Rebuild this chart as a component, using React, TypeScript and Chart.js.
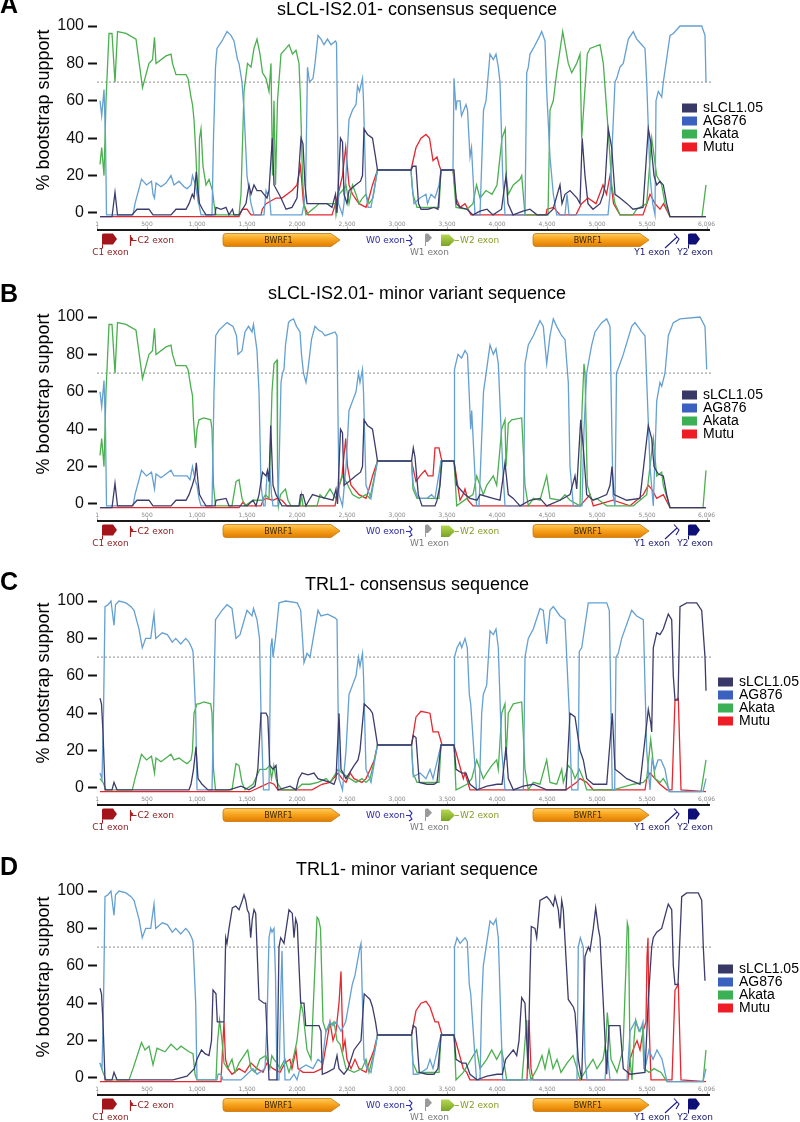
import React, { useEffect, useRef } from "react";
import { Chart, registerables } from "chart.js";

Chart.register(...registerables);

const FONT = "'Liberation Sans', Arial, Helvetica, sans-serif";
const SMALL_FONT = "'DejaVu Sans', Verdana, sans-serif";

// ---------------- labels / categories ----------------
const seriesNames = ["sLCL1.05", "AG876", "Akata", "Mutu"];
const panelLetters = ["A", "B", "C", "D"];
const panelTitles = [
  "sLCL-IS2.01- consensus sequence",
  "sLCL-IS2.01- minor variant sequence",
  "TRL1- consensus sequence",
  "TRL1- minor variant sequence",
];
const yAxisTitle = "% bootstrap support";
const yTicks = [0, 20, 40, 60, 80, 100];
const thresholdValue = 70;
const thresholdX = [0, 6150];
const rulerTicks = [1, 500, 1000, 1500, 2000, 2500, 3000, 3500, 4000, 4500, 5000, 5500, 6096];
const rulerLabels = ["1", "500", "1,000", "1,500", "2,000", "2,500", "3,000", "3,500", "4,000", "4,500", "5,000", "5,500", "6,096"];

// gene annotation track (positions in bp)
const geneNames = ["C1 exon", "C2 exon", "BWRF1", "W0 exon", "W1 exon", "W2 exon", "BWRF1", "Y1 exon", "Y2 exon"];
const geneStarts = [50, 330, 1260, 3090, 3280, 3440, 4360, 5710, 5910];
const geneEnds = [200, 365, 2430, 3150, 3350, 3580, 5520, 5830, 6030];

// ---------------- series values: [position (bp), % bootstrap] ----------------
const A_sLCL = [[30,-2],[150,-2],[180,11],[205,-1],[350,-1],[400,2],[520,2],[560,-1],[740,-1],[790,2],[890,2],[920,5],[953,10],[970,8],[980,15],[993,22],[1010,12],[1025,5],[1055,2],[1090,-1],[1180,-1],[1190,3],[1240,2],[1290,3],[1320,-1],[1355,2],[1370,-1],[1420,-1],[1490,5],[1520,15],[1540,10],[1570,15],[1600,12],[1640,12],[1670,10],[1700,8],[1720,12],[1753,40],[1770,15],[1800,12],[1840,8],[1890,2],[1950,3],[2000,8],[2040,40],[2060,37],[2080,15],[2100,5],[2220,5],[2300,5],[2350,3],[2385,10],[2400,0],[2435,40],[2455,38],[2470,10],[2500,5],[2520,12],[2585,15],[2635,17],[2655,20],[2670,45],[2705,42],[2755,40],[2785,30],[2805,23],[3140,23],[3160,25],[3190,25],[3215,5],[3240,2],[3310,2],[3370,3],[3410,2],[3440,23],[3570,23],[3595,5],[3630,3],[3700,2],[3760,-1],[3830,1],[3900,2],[3960,-1],[4045,2],[4090,20],[4110,5],[4160,-1],[4260,1],[4330,2],[4400,-1],[4500,-1],[4560,2],[4630,15],[4650,5],[4680,10],[4730,12],[4800,8],[4830,5],[4852,40],[4880,20],[4910,5],[4960,2],[5030,5],[5063,10],[5080,15],[5113,45],[5147,35],[5180,10],[5230,8],[5300,5],[5360,2],[5460,3],[5513,45],[5537,38],[5570,20],[5597,15],[5630,17],[5663,15],[5697,5],[5730,-2],[6090,-2]];
const A_AG876 = [[30,60],[47,52],[70,66],[85,40],[95,-1],[360,-1],[380,5],[445,18],[480,16],[495,15],[545,17],[560,10],[575,8],[590,16],[640,14],[690,16],[740,20],[770,15],[820,17],[870,14],[900,13],[940,15],[955,20],[985,15],[1000,10],[1025,3],[1040,-1],[1150,-1],[1165,40],[1185,78],[1200,88],[1250,92],[1300,97],[1340,95],[1370,92],[1405,82],[1420,80],[1450,70],[1470,55],[1500,20],[1540,5],[1570,-1],[1670,-1],[1690,12],[1705,10],[1720,12],[1740,-1],[2050,-1],[2070,5],[2085,10],[2105,78],[2125,70],[2160,72],[2180,80],[2210,95],[2240,93],[2270,90],[2305,93],[2340,90],[2385,92],[2395,91],[2415,5],[2455,-1],[2470,5],[2490,20],[2520,50],[2555,55],[2590,58],[2605,68],[2625,65],[2655,72],[2665,60],[2690,10],[2710,3],[2740,3],[2805,23],[3140,23],[3150,15],[3170,5],[3230,8],[3290,10],[3305,5],[3340,10],[3380,8],[3420,15],[3440,23],[3560,23],[3570,72],[3590,55],[3600,60],[3630,60],[3645,52],[3690,58],[3705,55],[3730,30],[3745,35],[3780,-1],[3830,-1],[3865,55],[3890,60],[3930,85],[3963,82],[3990,85],[4013,78],[4030,70],[4057,20],[4080,-1],[4280,-1],[4297,75],[4313,78],[4330,85],[4363,88],[4430,95],[4447,97],[4480,92],[4497,65],[4530,30],[4563,10],[4597,-1],[4680,-1],[4700,10],[4720,-1],[5110,-1],[5130,10],[5180,70],[5197,72],[5230,78],[5263,80],[5313,93],[5363,97],[5397,93],[5447,90],[5480,88],[5497,70],[5530,20],[5557,5],[5580,-1],[5590,60],[5613,65],[5647,62],[5663,70],[5690,80],[5730,95],[5763,96],[5797,98],[5830,100],[6047,100],[6080,95],[6090,70]];
const A_Akata = [[30,26],[47,35],[70,20],[90,60],[120,96],[150,96],[180,70],[205,97],[290,96],[390,93],[455,67],[520,80],[555,82],[575,94],[590,80],[690,84],[740,85],[755,80],[790,74],[890,74],[910,72],[940,62],[955,58],[970,50],[990,30],[1005,10],[1015,5],[1025,40],[1040,45],[1060,25],[1090,15],[1120,18],[1155,12],[1170,5],[1190,-1],[1420,-1],[1440,10],[1470,65],[1505,80],[1540,78],[1570,88],[1600,93],[1630,85],[1655,75],[1690,72],[1720,65],[1740,80],[1755,20],[1770,60],[1785,15],[1805,60],[1840,85],[1890,88],[1920,90],[1955,85],[1990,87],[2020,80],[2035,60],[2055,20],[2070,5],[2090,-1],[2180,3],[2220,5],[2300,5],[2380,5],[2390,-1],[2420,10],[2455,12],[2490,15],[2520,5],[2555,15],[2590,10],[2620,5],[2655,8],[2690,10],[2720,5],[2760,8],[2805,23],[3140,23],[3160,10],[3200,3],[3420,3],[3440,23],[3560,23],[3590,3],[3700,2],[3760,5],[3795,15],[3830,8],[3890,12],[3950,10],[4000,15],[4050,40],[4083,45],[4093,20],[4113,10],[4163,15],[4230,18],[4247,20],[4280,-1],[4510,-1],[4530,55],[4563,60],[4597,75],[4657,97],[4680,90],[4713,80],[4747,75],[4797,80],[4830,85],[4847,40],[4903,85],[4930,88],[5030,90],[5063,80],[5097,55],[5130,30],[5147,15],[5180,5],[5230,-1],[5360,-1],[5397,2],[5497,5],[5547,40],[5597,20],[5647,15],[5680,5],[5730,-2],[6050,-2],[6090,15]];
const A_Mutu = [[30,-2],[1420,-2],[1453,2],[1500,2],[1540,-1],[1640,-1],[1653,2],[1690,5],[1790,8],[1850,8],[1950,12],[2000,15],[2035,25],[2065,5],[2110,-1],[2350,-1],[2385,5],[2420,12],[2455,20],[2487,35],[2520,15],[2555,10],[2620,5],[2690,3],[2720,8],[2755,15],[2805,23],[3140,23],[3190,35],[3240,40],[3290,42],[3325,40],[3360,28],[3400,30],[3425,25],[3440,23],[3560,23],[3590,8],[3630,3],[3680,5],[3740,-1],[4490,-1],[4500,2],[4565,3],[4630,-1],[4790,-1],[4845,5],[4910,8],[4990,5],[5060,15],[5095,10],[5130,20],[5165,5],[5230,-1],[5460,-1],[5530,10],[5580,5],[5630,2],[5665,5],[5730,-2],[6090,-2]];

const B_sLCL = [[30,-2],[150,-2],[180,11],[205,-1],[350,-1],[400,2],[520,2],[560,-1],[740,-1],[790,2],[890,2],[920,5],[953,10],[980,15],[993,22],[1010,12],[1025,5],[1055,2],[1090,-1],[1180,-1],[1190,2],[1290,3],[1320,-1],[1500,-1],[1560,2],[1590,-1],[1620,5],[1655,17],[1690,15],[1705,18],[1720,12],[1737,42],[1760,10],[1790,5],[1820,2],[1850,-1],[2020,-1],[2035,5],[2060,5],[2090,-1],[2120,2],[2155,5],[2220,4],[2290,3],[2360,2],[2390,8],[2405,0],[2435,40],[2455,38],[2470,10],[2520,12],[2585,15],[2635,17],[2655,20],[2670,45],[2705,42],[2755,40],[2785,30],[2805,23],[3145,23],[3163,30],[3180,25],[3213,5],[3250,-1],[3380,-1],[3400,2],[3430,10],[3450,23],[3570,23],[3597,10],[3630,8],[3680,5],[3730,3],[3800,2],[3830,5],[3960,3],[4030,2],[4080,22],[4113,5],[4163,3],[4230,-1],[4330,2],[4430,3],[4497,-1],[4630,2],[4730,5],[4780,15],[4797,8],[4837,45],[4863,30],[4897,5],[4963,2],[5097,5],[5130,10],[5150,20],[5170,5],[5297,2],[5430,3],[5513,42],[5547,35],[5570,20],[5613,16],[5663,15],[5697,5],[5730,-2],[6090,-2]];
const B_AG876 = [[30,60],[47,52],[70,66],[85,40],[95,-1],[360,-1],[380,5],[445,18],[495,15],[545,17],[575,8],[590,16],[640,14],[740,18],[770,15],[900,15],[930,13],[955,20],[985,12],[1000,10],[1020,3],[1040,-1],[1150,-1],[1170,60],[1187,90],[1220,93],[1300,97],[1360,95],[1395,90],[1410,80],[1450,82],[1480,92],[1515,95],[1550,92],[1565,96],[1600,82],[1620,60],[1640,10],[1665,-1],[1680,-1],[1700,15],[1730,18],[1745,5],[1760,-1],[1810,-1],[1825,30],[1840,65],[1855,70],[1870,72],[1885,85],[1915,97],[1930,98],[1965,99],[1995,95],[2030,92],[2045,80],[2065,70],[2090,65],[2110,72],[2145,88],[2180,95],[2215,93],[2250,92],[2280,90],[2330,91],[2380,92],[2400,90],[2420,5],[2455,-1],[2490,20],[2520,50],[2555,55],[2590,60],[2615,70],[2630,65],[2655,72],[2665,60],[2690,10],[2740,3],[2805,23],[3145,23],[3163,10],[3210,3],[3300,3],[3345,5],[3380,3],[3440,23],[3570,23],[3575,72],[3610,80],[3645,78],[3680,82],[3705,80],[3725,55],[3737,40],[3747,50],[3795,-1],[3820,-1],[3865,60],[3930,85],[3963,80],[3990,83],[4013,75],[4057,20],[4080,-1],[4265,-1],[4280,75],[4313,85],[4363,90],[4430,98],[4463,95],[4497,75],[4530,90],[4563,99],[4597,95],[4647,90],[4680,88],[4713,65],[4730,20],[4763,-1],[4850,-1],[4870,40],[4897,70],[4913,75],[4947,85],[4980,92],[5047,97],[5097,99],[5130,95],[5160,5],[5180,-1],[5195,70],[5230,75],[5263,80],[5347,95],[5380,97],[5447,92],[5480,90],[5530,20],[5563,-1],[5597,55],[5630,65],[5647,63],[5680,70],[5713,90],[5763,97],[5830,99],[6030,100],[6080,95],[6097,72]];
const B_Akata = [[30,26],[47,35],[70,20],[90,60],[120,96],[150,96],[180,70],[205,97],[290,96],[390,93],[455,67],[520,80],[555,82],[575,94],[590,80],[690,84],[740,85],[755,80],[790,74],[890,74],[910,72],[940,62],[955,58],[965,45],[985,30],[1000,40],[1020,45],[1070,46],[1137,45],[1150,40],[1165,10],[1185,-1],[1350,-1],[1390,12],[1420,13],[1450,3],[1480,-1],[1560,2],[1650,2],[1685,5],[1720,3],[1750,60],[1770,75],[1800,77],[1805,20],[1815,-1],[1835,5],[1885,8],[1910,2],[1940,-1],[2030,-1],[2045,5],[2060,-1],[2200,-1],[2230,5],[2270,3],[2330,8],[2385,3],[2420,10],[2455,15],[2490,12],[2555,5],[2620,3],[2690,5],[2730,3],[2805,23],[3145,23],[3160,8],[3200,3],[3420,3],[3440,23],[3570,23],[3597,-1],[3700,3],[3760,5],[3797,15],[3830,10],[3863,5],[3897,10],[3963,15],[3997,10],[4047,40],[4080,45],[4090,20],[4113,43],[4147,45],[4247,46],[4280,10],[4313,-1],[4363,3],[4430,2],[4497,15],[4530,3],[4630,2],[4680,5],[4730,2],[4830,-1],[4850,50],[4870,75],[4880,70],[4903,10],[4947,2],[4997,3],[5097,-1],[5363,-1],[5430,2],[5497,5],[5563,35],[5597,15],[5647,17],[5663,10],[5730,-2],[6060,-2],[6090,18]];
const B_Mutu = [[30,-2],[1420,-2],[1460,1],[1500,-1],[1640,-1],[1660,2],[1690,3],[1760,2],[1800,3],[1850,2],[1900,-1],[2380,-1],[2400,5],[2450,15],[2487,35],[2505,20],[2540,10],[2620,5],[2690,3],[2720,8],[2755,15],[2805,23],[3145,23],[3190,12],[3230,15],[3280,18],[3310,15],[3360,15],[3380,30],[3420,30],[3440,25],[3450,23],[3570,23],[3630,2],[3660,5],[3680,8],[3710,2],[3760,-1],[4830,-1],[4897,3],[4930,5],[4963,-1],[5160,2],[5330,-1],[5463,5],[5513,10],[5547,8],[5597,3],[5663,5],[5730,-2],[6090,-2]];

const C_sLCL = [[30,48],[45,45],[60,30],[80,-1],[150,-1],[170,3],[200,-1],[920,-1],[940,2],[965,10],[990,22],[1010,5],[1050,2],[1110,-1],[1320,-1],[1440,1],[1520,-1],[1580,1],[1608,10],[1640,40],[1690,40],[1708,38],[1728,12],[1760,10],[1790,12],[1810,-1],[1930,1],[1990,-1],[2017,5],[2050,8],[2110,7],[2170,8],[2210,5],[2330,3],[2370,2],[2390,5],[2420,40],[2440,10],[2490,5],[2570,12],[2610,15],[2630,20],[2672,45],[2730,42],[2755,40],[2785,30],[2805,23],[3145,23],[3163,28],[3190,27],[3223,3],[3300,2],[3370,2],[3400,3],[3440,23],[3570,23],[3590,10],[3650,8],[3690,8],[3730,2],[3800,-1],[3900,1],[4000,2],[4050,2],[4090,22],[4113,5],[4163,-1],[4263,1],[4363,2],[4497,-1],[4690,-1],[4730,40],[4780,38],[4830,20],[4863,15],[4897,5],[4963,2],[5097,2],[5153,40],[5180,10],[5230,8],[5297,5],[5430,2],[5513,42],[5537,35],[5547,30],[5563,75],[5597,83],[5630,82],[5663,85],[5713,93],[5747,90],[5763,60],[5780,47],[5810,47],[5830,97],[5897,99],[5997,99],[6047,95],[6080,70],[6090,52]];
const C_AG876 = [[30,8],[50,5],[65,40],[80,97],[110,98],[140,100],[170,87],[185,98],[220,100],[290,99],[340,97],[370,95],[420,85],[453,75],[487,80],[537,80],[570,93],[587,80],[653,83],[703,82],[753,78],[787,80],[837,77],[887,80],[920,78],[947,75],[960,73],[987,40],[1000,-1],[1150,-1],[1165,40],[1185,90],[1250,95],[1300,98],[1350,96],[1390,80],[1430,82],[1500,95],[1550,92],[1565,96],[1600,90],[1625,80],[1640,40],[1665,-1],[1720,-1],[1737,75],[1750,80],[1760,70],[1785,80],[1820,99],[1887,100],[2003,99],[2037,95],[2055,80],[2070,67],[2100,72],[2130,70],[2210,95],[2240,92],[2305,93],[2380,91],[2400,90],[2420,5],[2455,-1],[2490,20],[2520,50],[2555,55],[2590,60],[2615,70],[2630,65],[2655,72],[2665,60],[2690,10],[2740,3],[2805,23],[3145,23],[3163,6],[3230,8],[3290,5],[3330,10],[3360,5],[3440,23],[3570,23],[3575,70],[3600,75],[3630,78],[3647,75],[3680,80],[3703,75],[3723,50],[3737,45],[3795,-1],[3823,-1],[3847,40],[3863,50],[3897,55],[3930,84],[3963,82],[3990,85],[4013,75],[4047,20],[4080,-1],[4263,-1],[4280,70],[4313,80],[4363,85],[4430,96],[4463,95],[4497,77],[4530,95],[4563,97],[4630,92],[4680,90],[4723,40],[4747,-1],[4810,-1],[4823,73],[4847,75],[4913,99],[4963,99],[5097,99],[5123,95],[5153,-1],[5177,-1],[5190,70],[5213,72],[5247,80],[5347,95],[5397,92],[5463,90],[5497,20],[5530,-1],[5550,15],[5580,10],[5610,15],[5640,15],[5680,10],[5720,-2],[6060,-2],[6090,5]];
const C_Akata = [[30,5],[60,3],[90,-1],[353,-1],[380,5],[445,18],[495,15],[545,17],[575,8],[590,16],[640,14],[740,18],[770,15],[820,16],[870,14],[900,13],[940,15],[955,20],[970,40],[1000,45],[1020,45],[1070,46],[1137,45],[1150,40],[1165,10],[1185,-1],[1350,-1],[1390,13],[1420,12],[1450,3],[1480,-1],[1560,2],[1628,10],[1690,10],[1728,12],[1745,5],[1768,12],[1790,5],[1810,2],[1850,-1],[1990,-1],[2050,2],[2130,2],[2210,3],[2290,5],[2330,3],[2390,8],[2411,10],[2450,8],[2530,5],[2590,3],[2650,5],[2690,3],[2730,5],[2753,10],[2805,23],[3145,23],[3160,8],[3200,3],[3420,3],[3440,23],[3570,23],[3590,-1],[3700,2],[3747,5],[3797,15],[3830,10],[3863,5],[3897,8],[3947,12],[3997,15],[4013,10],[4047,40],[4080,45],[4090,15],[4113,40],[4163,45],[4247,46],[4280,10],[4313,-1],[4363,3],[4430,2],[4497,15],[4530,3],[4597,2],[4647,10],[4663,3],[4713,12],[4747,10],[4780,5],[4823,10],[4863,5],[4897,-1],[5163,-1],[5363,2],[5463,3],[5497,5],[5537,26],[5580,5],[5630,3],[5663,5],[5697,2],[5730,-2],[6040,-2],[6090,15]];
const C_Mutu = [[30,-2],[1530,-2],[1610,0],[1650,1],[1690,2],[1728,3],[1770,2],[1810,-1],[2150,-1],[2250,2],[2330,3],[2411,8],[2450,5],[2490,3],[2532,8],[2570,5],[2650,3],[2690,5],[2733,10],[2773,15],[2805,23],[3145,23],[3190,38],[3240,41],[3330,40],[3360,30],[3413,30],[3440,25],[3450,23],[3570,23],[3663,5],[3680,8],[3730,-1],[4690,-1],[4797,3],[4830,5],[4897,3],[4963,-1],[5480,-1],[5497,5],[5530,8],[5580,5],[5630,2],[5697,-1],[5750,-1],[5780,47],[5813,48],[5840,-1],[6090,-2]];

const D_sLCL = [[30,48],[45,45],[60,30],[80,-1],[150,-1],[170,3],[200,-1],[760,-1],[900,1],[973,5],[1000,10],[1045,15],[1080,13],[1120,12],[1145,20],[1160,47],[1190,45],[1203,30],[1270,30],[1287,75],[1300,72],[1320,80],[1353,91],[1387,92],[1420,90],[1453,95],[1470,98],[1487,95],[1503,90],[1520,88],[1537,75],[1553,85],[1570,90],[1587,88],[1620,42],[1670,40],[1687,40],[1720,-1],[1800,-1],[1820,70],[1837,75],[1870,72],[1920,90],[1953,88],[1970,75],[1987,85],[2003,82],[2020,60],[2037,40],[2070,40],[2087,28],[2220,28],[2240,25],[2253,2],[2300,3],[2370,5],[2400,12],[2420,5],[2470,2],[2510,5],[2570,15],[2640,20],[2672,45],[2730,42],[2755,38],[2785,30],[2805,23],[3145,23],[3163,28],[3190,27],[3223,3],[3300,2],[3370,2],[3410,5],[3440,23],[3570,23],[3590,10],[3650,8],[3690,8],[3730,2],[3800,-1],[3900,1],[4000,2],[4053,2],[4087,10],[4163,15],[4197,12],[4220,20],[4247,43],[4280,40],[4310,5],[4330,55],[4343,81],[4380,80],[4397,75],[4430,95],[4497,97],[4530,95],[4563,92],[4580,97],[4613,90],[4630,80],[4647,95],[4663,90],[4713,42],[4763,38],[4780,35],[4813,10],[4847,-1],[4880,65],[4913,70],[4930,68],[4963,80],[4987,91],[5013,80],[5030,75],[5063,40],[5097,2],[5120,28],[5230,28],[5263,5],[5330,2],[5480,3],[5513,42],[5547,70],[5563,75],[5597,78],[5647,80],[5697,90],[5713,93],[5747,90],[5763,60],[5780,50],[5810,50],[5847,97],[5897,99],[6013,99],[6047,95],[6063,70],[6080,52]];
const D_AG876 = [[30,8],[50,5],[65,40],[80,97],[110,98],[140,100],[170,87],[185,98],[220,100],[290,99],[340,97],[370,95],[420,85],[453,75],[487,80],[537,80],[570,93],[587,80],[653,83],[703,82],[753,78],[787,80],[837,77],[887,80],[920,78],[947,75],[960,73],[987,40],[1000,-1],[1200,-1],[1210,2],[1240,2],[1260,-1],[1440,-1],[1500,2],[1560,5],[1600,2],[1680,5],[1700,30],[1720,75],[1737,80],[1750,78],[1770,80],[1785,55],[1800,-1],[1820,-1],[1840,50],[1850,68],[1860,40],[1880,-1],[1930,-1],[1970,2],[2000,-1],[2030,5],[2090,7],[2160,5],[2210,10],[2250,8],[2290,25],[2330,30],[2360,28],[2390,30],[2440,25],[2487,30],[2520,40],[2553,50],[2580,55],[2630,70],[2640,72],[2650,50],[2670,10],[2700,5],[2740,3],[2805,23],[3145,23],[3163,2],[3210,2],[3300,5],[3330,10],[3360,5],[3440,23],[3570,23],[3575,70],[3600,75],[3630,72],[3680,75],[3703,73],[3723,50],[3737,45],[3795,-1],[3830,-1],[3847,40],[3863,60],[3930,84],[3963,82],[3990,85],[4013,75],[4057,-1],[4800,-1],[4813,70],[4833,75],[4863,70],[4880,10],[4900,-1],[5080,-1],[5100,15],[5130,-1],[5300,-1],[5330,25],[5380,30],[5430,25],[5460,30],[5480,5],[5520,15],[5560,10],[5600,15],[5650,10],[5700,-2],[6060,-2],[6090,5]];
const D_Akata = [[30,8],[60,3],[90,-1],[320,-1],[360,5],[445,19],[480,15],[520,17],[560,7],[600,16],[680,14],[740,18],[800,15],[840,17],[920,14],[960,13],[980,2],[1000,-1],[1190,-1],[1206,20],[1226,31],[1250,20],[1270,8],[1306,5],[1350,10],[1380,3],[1420,8],[1507,15],[1540,5],[1580,3],[1628,10],[1688,12],[1728,5],[1748,12],[1770,10],[1800,8],[1830,5],[1880,10],[1920,3],[1960,10],[2000,20],[2040,40],[2060,35],[2100,15],[2140,10],[2180,60],[2200,86],[2215,85],[2235,80],[2245,60],[2260,30],[2290,25],[2330,28],[2370,30],[2400,20],[2431,18],[2490,5],[2570,3],[2650,5],[2690,10],[2720,3],[2753,10],[2780,15],[2805,23],[3145,23],[3160,8],[3200,3],[3420,3],[3440,23],[3570,23],[3590,-1],[3663,3],[3797,15],[3830,5],[3897,10],[3947,15],[3997,10],[4047,15],[4080,5],[4097,-1],[4250,-1],[4297,31],[4320,5],[4340,-1],[4400,5],[4450,12],[4480,5],[4520,15],[4560,5],[4600,10],[4640,3],[4700,8],[4760,12],[4800,5],[4830,-1],[4900,5],[4960,10],[5000,5],[5060,10],[5090,20],[5103,35],[5120,25],[5140,10],[5200,3],[5260,15],[5290,60],[5303,83],[5315,80],[5330,10],[5350,-1],[5370,20],[5387,31],[5420,25],[5453,28],[5470,5],[5520,3],[5570,5],[5640,3],[5700,-2],[6060,-2],[6090,15]];
const D_Mutu = [[30,-2],[1240,-2],[1255,15],[1270,30],[1285,10],[1310,5],[1350,2],[1420,5],[1480,3],[1540,8],[1600,5],[1660,3],[1700,8],[1760,5],[1830,3],[1880,8],[1929,10],[1950,5],[1990,15],[2010,5],[2060,3],[2170,3],[2250,5],[2300,20],[2330,30],[2360,20],[2390,25],[2420,40],[2440,57],[2460,15],[2480,20],[2500,10],[2540,5],[2580,10],[2620,5],[2690,3],[2720,8],[2770,15],[2805,23],[3145,23],[3190,36],[3240,40],[3290,41],[3330,38],[3380,30],[3413,30],[3440,25],[3450,23],[3570,23],[3663,5],[3697,3],[3730,-1],[4300,-1],[4320,31],[4340,5],[4360,-1],[5310,-1],[5330,10],[5360,15],[5400,20],[5430,15],[5460,25],[5490,30],[5500,65],[5510,75],[5520,30],[5540,-1],[5750,-1],[5780,47],[5813,50],[5840,-1],[6090,-2]];

const panelSeries = [
  [A_sLCL, A_AG876, A_Akata, A_Mutu],
  [B_sLCL, B_AG876, B_Akata, B_Mutu],
  [C_sLCL, C_AG876, C_Akata, C_Mutu],
  [D_sLCL, D_AG876, D_Akata, D_Mutu],
];

// ---------------- styling / layout ----------------
const lineColors = ["#3c3c6c", "#64a0d2", "#4bb04f", "#e5282f"];
const legendColors = ["#393968", "#3a60c0", "#3cb055", "#ee1d25"];
const geneStyle = [
  { kind: "flag", color: "#a3141b", text: "#8b1c1c", label: "below" },
  { kind: "tick", color: "#a82020", text: "#8b1c1c", label: "right" },
  { kind: "bar", color: "#f5a01e", text: "#3a2600", label: "inside" },
  { kind: "thin", color: "#2b2bb5", text: "#2b2ba5", label: "left" },
  { kind: "smallflag", color: "#9a9a9a", text: "#7a7a7a", label: "below" },
  { kind: "arrow", color: "#8cb832", text: "#8a9a2a", label: "right" },
  { kind: "bar", color: "#f5a01e", text: "#3a2600", label: "inside" },
  { kind: "diag", color: "#1c1c80", text: "#1a1a70", label: "belowLeft" },
  { kind: "flag", color: "#0f0f78", text: "#1a1a70", label: "below" },
];
const PAD = 24; // extra room above each panel so titles are not cut
const panelTop = [0, 291, 575, 865];
const panelHeight = [291, 284, 290, 257];
const titleBase = [15, 8, 15, 10];
const letterBase = [13, 11, 15, 10];
const yTitleCenter = [110, 103, 108, 112];
const legendX = [682, 682, 718, 718];
const legendY = [108, 104, 107, 104];
const PLOT_LEFT = 97;
const PLOT_RIGHT = 712;
const PLOT_TOP = 26;
const PLOT_BOTTOM = 230;

function drawGene(ctx: CanvasRenderingContext2D, xs: any, i: number) {
  const x1 = xs.getPixelForValue(geneStarts[i]);
  const x2 = xs.getPixelForValue(geneEnds[i]);
  const st = geneStyle[i];
  ctx.save();
  ctx.fillStyle = st.color;
  ctx.strokeStyle = st.color;
  ctx.lineWidth = 1;
  let labelRightX = x2 + 2;
  if (st.kind === "bar") {
    const top = 233.5, bot = 246.5, r = 3;
    const g = ctx.createLinearGradient(0, top, 0, bot);
    g.addColorStop(0, "#ffcd5c");
    g.addColorStop(0.45, "#f8a41e");
    g.addColorStop(1, "#e07c00");
    ctx.beginPath();
    ctx.moveTo(x1 + r, top);
    ctx.lineTo(x2 - 9, top);
    ctx.lineTo(x2, (top + bot) / 2);
    ctx.lineTo(x2 - 9, bot);
    ctx.lineTo(x1 + r, bot);
    ctx.quadraticCurveTo(x1, bot, x1, bot - r);
    ctx.lineTo(x1, top + r);
    ctx.quadraticCurveTo(x1, top, x1 + r, top);
    ctx.closePath();
    ctx.fillStyle = g;
    ctx.fill();
    ctx.strokeStyle = "#c8780e";
    ctx.lineWidth = 0.8;
    ctx.stroke();
    ctx.fillStyle = st.text;
    ctx.font = `8px ${SMALL_FONT}`;
    ctx.textAlign = "center";
    ctx.textBaseline = "middle";
    ctx.fillText(geneNames[i], (x1 + x2 - 6) / 2, 240.5);
    ctx.restore();
    return;
  } else if (st.kind === "flag" || st.kind === "smallflag") {
    const top = 233.5;
    const bot = st.kind === "flag" ? 244.5 : 242;
    ctx.beginPath();
    ctx.moveTo(x1, top + 1);
    ctx.quadraticCurveTo(x1, top, x1 + 2, top);
    ctx.lineTo(x2 - 4, top);
    ctx.lineTo(x2, (top + bot) / 2);
    ctx.lineTo(x2 - 4, bot);
    ctx.lineTo(x1, bot);
    ctx.closePath();
    ctx.fill();
    ctx.beginPath();
    ctx.moveTo(x1 + 0.5, bot);
    ctx.lineTo(x1 + 0.5, bot + 4);
    ctx.stroke();
  } else if (st.kind === "arrow") {
    const top = 234.5, bot = 246;
    const g = ctx.createLinearGradient(0, top, 0, bot);
    g.addColorStop(0, "#b4d84e");
    g.addColorStop(1, "#7aa226");
    ctx.beginPath();
    ctx.moveTo(x1, top);
    ctx.lineTo(x2 - 6, top);
    ctx.lineTo(x2, (top + bot) / 2);
    ctx.lineTo(x2 - 6, bot);
    ctx.lineTo(x1, bot);
    ctx.closePath();
    ctx.fillStyle = g;
    ctx.fill();
    ctx.strokeStyle = st.color;
    ctx.beginPath();
    ctx.moveTo(x2, 240.5);
    ctx.lineTo(x2 + 4, 240.5);
    ctx.stroke();
    labelRightX = x2 + 4;
  } else if (st.kind === "tick") {
    ctx.lineWidth = 1.2;
    ctx.beginPath();
    ctx.moveTo(x1 + 0.5, 235);
    ctx.lineTo(x1 + 0.5, 246);
    ctx.moveTo(x1, 240.5);
    ctx.lineTo(x2 + 3, 240.5);
    ctx.stroke();
    ctx.beginPath();
    ctx.moveTo(x1 + 1, 236.5);
    ctx.lineTo(x2, 239);
    ctx.lineTo(x1 + 1, 241.5);
    ctx.closePath();
    ctx.fill();
    labelRightX = x2 + 3;
  } else if (st.kind === "thin") {
    ctx.lineWidth = 1.1;
    ctx.beginPath();
    ctx.moveTo(x1, 240.5);
    ctx.lineTo(x2 - 2, 240.5);
    ctx.moveTo(x2 - 3, 235);
    ctx.lineTo(x2, 238);
    ctx.lineTo(x2 - 2, 241);
    ctx.lineTo(x2, 244);
    ctx.lineTo(x2 - 3, 246);
    ctx.stroke();
  } else if (st.kind === "diag") {
    ctx.lineWidth = 1.1;
    ctx.beginPath();
    ctx.moveTo(x1 - 3, 248);
    ctx.lineTo(x2 - 3, 237);
    ctx.stroke();
    ctx.beginPath();
    ctx.moveTo(x2 - 6, 233.5);
    ctx.lineTo(x2 - 1, 239);
    ctx.lineTo(x2 - 4, 244);
    ctx.stroke();
  }
  ctx.fillStyle = st.text;
  ctx.font = `9px ${SMALL_FONT}`;
  ctx.textBaseline = "middle";
  if (st.label === "below") {
    ctx.textAlign = "center";
    ctx.fillText(geneNames[i], (x1 + x2) / 2 + 1, 252.5);
  } else if (st.label === "belowLeft") {
    ctx.textAlign = "right";
    ctx.fillText(geneNames[i], x1 + 2, 252.5);
  } else if (st.label === "right") {
    ctx.textAlign = "left";
    ctx.fillText(geneNames[i], labelRightX + 1, 240.5);
  } else if (st.label === "left") {
    ctx.textAlign = "right";
    ctx.fillText(geneNames[i], x1 - 1, 240.5);
  }
  ctx.restore();
}

function makeAnnotPlugin(k: number) {
  return {
    id: "panelAnnotations" + k,
    afterDraw(chart: any) {
      const ctx: CanvasRenderingContext2D = chart.ctx;
      const xs = chart.scales.x;
      ctx.save();
      ctx.translate(0, PAD);
      // panel letter
      ctx.fillStyle = "#000";
      ctx.font = `bold 25px ${FONT}`;
      ctx.textAlign = "left";
      ctx.textBaseline = "alphabetic";
      ctx.fillText(panelLetters[k], 0, letterBase[k]);
      // title
      ctx.font = `18px ${FONT}`;
      ctx.textAlign = "center";
      ctx.fillText(panelTitles[k], 417, titleBase[k]);
      // y axis title
      ctx.save();
      ctx.translate(44, yTitleCenter[k]);
      ctx.rotate(-Math.PI / 2);
      ctx.textAlign = "center";
      ctx.textBaseline = "middle";
      ctx.font = `18px ${FONT}`;
      ctx.fillText(yAxisTitle, 0, 0);
      ctx.restore();
      // legend
      for (let i = 0; i < seriesNames.length; i++) {
        const cy = legendY[k] + i * 13;
        ctx.fillStyle = legendColors[i];
        ctx.fillRect(legendX[k], cy - 4.5, 15, 9);
        ctx.fillStyle = "#000";
        ctx.font = `14px ${FONT}`;
        ctx.textAlign = "left";
        ctx.textBaseline = "middle";
        ctx.fillText(seriesNames[i], legendX[k] + 21, cy + 0.5);
      }
      // ruler
      const xa = xs.getPixelForValue(0);
      const xb = xs.getPixelForValue(6130);
      ctx.strokeStyle = "#1a1a1a";
      ctx.lineWidth = 2;
      ctx.beginPath();
      ctx.moveTo(xa, PLOT_BOTTOM);
      ctx.lineTo(xb, PLOT_BOTTOM);
      ctx.stroke();
      ctx.font = `6px ${SMALL_FONT}`;
      ctx.fillStyle = "#8a8a8a";
      ctx.textAlign = "center";
      ctx.textBaseline = "alphabetic";
      ctx.strokeStyle = "#b0b0b0";
      ctx.lineWidth = 1;
      for (let i = 0; i < rulerTicks.length; i++) {
        const px = xs.getPixelForValue(rulerTicks[i]);
        ctx.fillText(rulerLabels[i], px, 226);
        ctx.beginPath();
        ctx.moveTo(Math.round(px) + 0.5, 226.5);
        ctx.lineTo(Math.round(px) + 0.5, 229);
        ctx.stroke();
      }
      // gene track
      for (let i = 0; i < geneNames.length; i++) drawGene(ctx, xs, i);
      ctx.restore();
    },
  };
}

function Panel({ k }: { k: number }) {
  const ref = useRef<HTMLCanvasElement>(null);
  const canvasH = panelHeight[k] + PAD;
  useEffect(() => {
    const canvas = ref.current;
    if (!canvas) return;
    const datasets: any[] = panelSeries[k].map((s, i) => ({
      label: seriesNames[i],
      data: s.map(([x, y]) => ({ x, y })),
      borderColor: lineColors[i],
      backgroundColor: lineColors[i],
      borderWidth: 1.3,
      pointRadius: 0,
      tension: 0,
      fill: false,
      clip: 4,
    }));
    datasets.push({
      label: "threshold",
      data: thresholdX.map((x) => ({ x, y: thresholdValue })),
      borderColor: "#8c8c8c",
      borderWidth: 1,
      borderDash: [2, 2],
      pointRadius: 0,
      fill: false,
    });
    const chart = new Chart(canvas, {
      type: "line",
      data: { datasets },
      options: {
        animation: false,
        responsive: false,
        events: [],
        layout: {
          padding: { left: 0, right: 800 - PLOT_RIGHT, top: PLOT_TOP + PAD, bottom: panelHeight[k] - PLOT_BOTTOM },
        },
        plugins: { legend: { display: false }, tooltip: { enabled: false }, title: { display: false } },
        scales: {
          x: { type: "linear", min: 0, max: 6150, display: false },
          y: {
            type: "linear",
            min: -9.1,
            max: 100,
            afterFit: (s: any) => { s.width = PLOT_LEFT; },
            afterBuildTicks: (s: any) => { s.ticks = yTicks.map((v) => ({ value: v })); },
            border: { display: false },
            grid: { drawOnChartArea: false, drawTicks: true, tickLength: 9, tickWidth: 2, tickColor: "#111" },
            ticks: { font: { size: 16, family: FONT }, color: "#111", padding: 4 },
          },
        },
      },
      plugins: [makeAnnotPlugin(k)],
    } as any);
    return () => chart.destroy();
  }, [k]);
  return (
    <canvas
      ref={ref}
      width={800}
      height={canvasH}
      style={{ position: "absolute", left: 0, top: panelTop[k] - PAD, width: 800, height: canvasH, display: "block" }}
    />
  );
}

export default function App() {
  return (
    <div style={{ position: "absolute", left: 0, top: 0, width: 800, height: 1122, background: "#fff", overflow: "hidden" }}>
      {[0, 1, 2, 3].map((k) => (
        <Panel key={k} k={k} />
      ))}
    </div>
  );
}
